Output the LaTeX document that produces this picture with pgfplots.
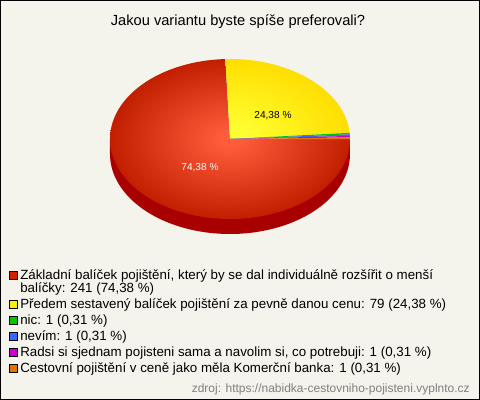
\documentclass[border=0pt]{standalone}
\usepackage{fontspec}
\setmainfont{Liberation Sans}
\usepackage{pgfplots}
\pgfplotsset{compat=1.18}
\definecolor{bg}{RGB}{244,243,236}
\definecolor{pieRedIn}{RGB}{255,92,60}
\definecolor{pieRedOut}{RGB}{194,30,0}
\definecolor{pieSide}{RGB}{168,0,0}
\definecolor{pieYelIn}{RGB}{255,255,50}
\definecolor{pieYelOut}{RGB}{255,222,0}
\definecolor{cRed}{RGB}{204,34,0}
\definecolor{cYellow}{RGB}{255,240,0}
\definecolor{cGreen}{RGB}{0,200,0}
\definecolor{cBlue}{RGB}{60,100,255}
\definecolor{cMagenta}{RGB}{204,0,204}
\definecolor{cOrange}{RGB}{230,112,0}
\definecolor{srcgray}{RGB}{128,128,128}
\pgfdeclareradialshading{redpie}{\pgfpoint{0bp}{0bp}}{color(0bp)=(pieRedIn); color(2bp)=(pieRedIn); color(25bp)=(pieRedOut); color(50bp)=(pieRedOut)}
\pgfdeclareradialshading{yelpie}{\pgfpoint{0bp}{0bp}}{color(0bp)=(pieYelIn); color(3bp)=(pieYelIn); color(25bp)=(pieYelOut); color(50bp)=(pieYelOut)}
\begin{document}
\begin{tikzpicture}
\begin{axis}[
  scale only axis, width=360pt, height=300pt,
  xmin=0, xmax=480, ymin=0, ymax=400, y dir=reverse,
  axis lines=none, clip=false, ticks=none,
]
% background and frame
\draw[fill=bg, draw=black, line width=0.75pt] (0.5,0.5) rectangle (479.5,399.5);
% title
\node[font=\fontsize{11}{13}\selectfont, anchor=base] at (238,25) {Jakou variantu byste spíše preferovali?};
% pie: values 241, 79, 1, 1, 1, 1 (total 324), clockwise from 0 deg
% side wall (front half, depth 15)
\addplot[fill=pieSide, draw=none, domain=180:360, samples=90]
  ({230+120*cos(x)},{154-80*sin(x)}) -- (350,139) -- (110,139) -- cycle;
% slices (moveto points give every shaded slice the bounding box of the whole pie)
\addplot[draw=none, shading=redpie, domain={-360*(0+241)/324}:{-360*0/324}, samples=120]
  ({230+120*cos(x)},{139-80*sin(x)}) -- (230,139) -- cycle (110,219) (350,59);
\addplot[draw=none, shading=yelpie, domain={-360*(241+79)/324}:{-360*241/324}, samples=50]
  ({230+120*cos(x)},{139-80*sin(x)}) -- (230,139) -- cycle (110,219) (350,59);
\addplot[draw=none, fill=cGreen, domain={-360*(320+1)/324}:{-360*320/324}, samples=4]
  ({230+120*cos(x)},{139-80*sin(x)}) -- (230,139) -- cycle;
\addplot[draw=none, fill=cBlue, domain={-360*(321+1)/324}:{-360*321/324}, samples=4]
  ({230+120*cos(x)},{139-80*sin(x)}) -- (230,139) -- cycle;
\addplot[draw=none, fill=cMagenta, domain={-360*(322+1)/324}:{-360*322/324}, samples=4]
  ({230+120*cos(x)},{139-80*sin(x)}) -- (230,139) -- cycle;
\addplot[draw=none, fill=cOrange, domain={-360*(323+1)/324}:{-360*323/324}, samples=4]
  ({230+120*cos(x)},{139-80*sin(x)}) -- (230,139) -- cycle;
% labels
\node[font=\fontsize{7.6}{9}\selectfont, text=white] at (200,168) {74,38 \%};
\node[font=\fontsize{7.6}{9}\selectfont, text=black] at (273,116) {24,38 \%};
% legend
\begin{scope}[every node/.style={font=\fontsize{10}{12}\selectfont, anchor=base west, inner sep=0pt}]
\draw[fill=cRed, draw=black!80!red] (9,271) rectangle (17,279);
\node at (20,279.5) {Základní balíček pojištění, který by se dal individuálně rozšířit o menší};
\node at (20,292.5) {balíčky: 241 (74,38 \%)};
\draw[fill=cYellow, draw=black] (9,300) rectangle (17,308);
\node at (20,308.5) {Předem sestavený balíček pojištění za pevně danou cenu: 79 (24,38 \%)};
\draw[fill=cGreen, draw=black] (9,316) rectangle (17,324);
\node at (20,324.5) {nic: 1 (0,31 \%)};
\draw[fill=cBlue, draw=black] (9,332) rectangle (17,340);
\node at (20,340.5) {nevím: 1 (0,31 \%)};
\draw[fill=cMagenta, draw=black] (9,348) rectangle (17,356);
\node at (20,356.5) {Radsi si sjednam pojisteni sama a navolim si, co potrebuji: 1 (0,31 \%)};
\draw[fill=cOrange, draw=black] (9,364) rectangle (17,372);
\node at (20,372.5) {Cestovní pojištění v ceně jako měla Komerční banka: 1 (0,31 \%)};
\end{scope}
\node[font=\fontsize{9}{11}\selectfont, text=srcgray, anchor=base east, inner sep=0pt] at (470,392) {zdroj: https://nabidka-cestovniho-pojisteni.vyplnto.cz};
\end{axis}
\end{tikzpicture}
\end{document}
